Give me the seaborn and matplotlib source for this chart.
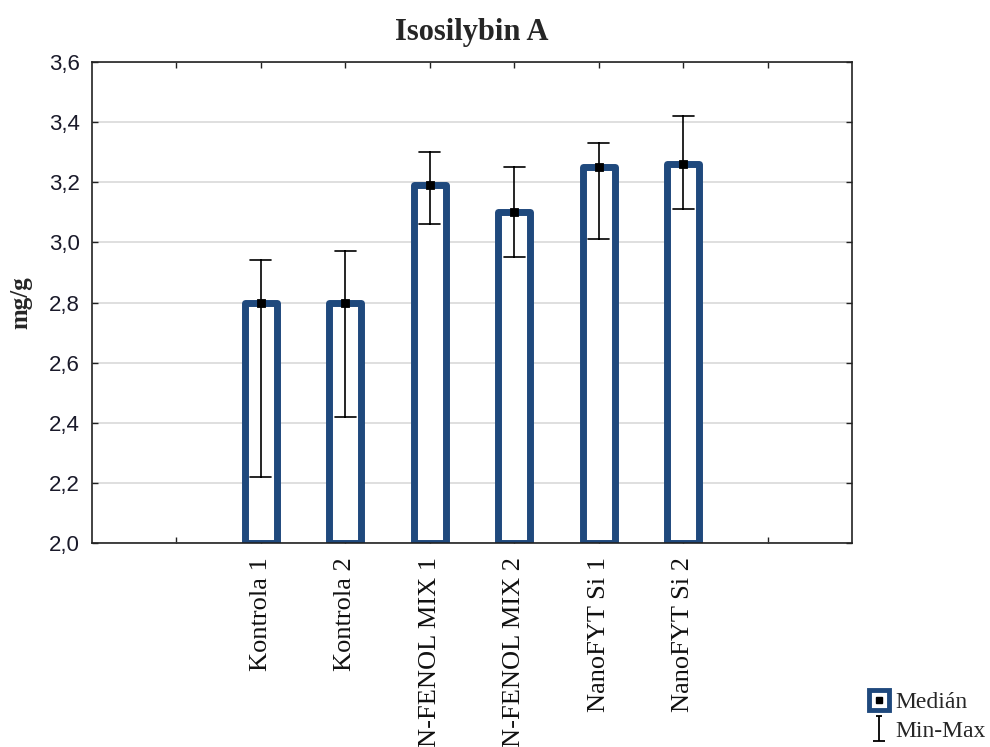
import numpy as np
import pandas as pd
import matplotlib
matplotlib.use("Agg")
import matplotlib.pyplot as plt
from matplotlib.lines import Line2D
from matplotlib.path import Path
from matplotlib.ticker import FuncFormatter, MultipleLocator
import seaborn as sns

# Isosilybin A content per treatment: median with min-max range
categories = ["Kontrola 1", "Kontrola 2", "N-FENOL MIX 1", "N-FENOL MIX 2",
              "NanoFYT Si 1", "NanoFYT Si 2"]
median_vals = [2.80, 2.80, 3.19, 3.10, 3.25, 3.26]
min_vals = [2.22, 2.42, 3.06, 2.95, 3.01, 3.11]
max_vals = [2.94, 2.97, 3.30, 3.25, 3.33, 3.42]

BLUE = "#1f497d"
SERIF = ["Liberation Serif", "DejaVu Serif"]
SANS = ["Liberation Sans", "DejaVu Sans"]

rows = []
for c, lo, md, hi in zip(categories, min_vals, median_vals, max_vals):
    for v in (lo, md, hi):
        rows.append({"group": c, "value": v})
df = pd.DataFrame(rows)

sns.set_style("white")
fig = plt.figure(figsize=(9.9, 7.47), dpi=100)
ax = fig.add_axes([92 / 990, 1 - 543 / 747, (852 - 92) / 990, (543 - 62) / 747])

ax.yaxis.grid(True, color="#d9d9d9", linewidth=1.2, zorder=0)
ax.set_axisbelow(True)

sns.barplot(data=df, x="group", y="value", order=categories,
            estimator="median", errorbar=lambda v: (v.min(), v.max()),
            width=0.38, color="white", edgecolor=BLUE, linewidth=5,
            capsize=0.25, err_kws={"color": "black", "linewidth": 1.2},
            ax=ax, zorder=2)

# bars rise from the bottom of the value axis
for p in ax.patches:
    top = p.get_y() + p.get_height()
    p.set_y(2.0)
    p.set_height(top - 2.0)
    p.set_joinstyle("round")

# median markers
sns.pointplot(data=df, x="group", y="value", order=categories,
              estimator="median", errorbar=None, linestyle="none",
              marker="s", markersize=4, color="black", ax=ax, zorder=5)

ax.set_ylim(2.0, 3.6)
ax.set_xlim(-2, 7)
ax.yaxis.set_major_locator(MultipleLocator(0.2))
ax.yaxis.set_major_formatter(FuncFormatter(lambda v, _: f"{v:.1f}".replace(".", ",")))
ax.set_xticks(np.arange(-1, len(categories) + 1))
ax.set_xticklabels([""] + categories + [""], rotation=90, fontfamily=SERIF,
                   fontsize=19, color="#111111")
for lab in ax.get_yticklabels():
    lab.set_fontfamily(SANS)
    lab.set_fontsize(16)
    lab.set_color("#1a1a2a")

ax.tick_params(axis="both", which="major", direction="in", length=4, width=1,
               color="#222222", top=True, right=True, bottom=True, left=True)
ax.tick_params(axis="x", pad=10)
ax.tick_params(axis="y", pad=9)

for s in ax.spines.values():
    s.set_visible(True)
    s.set_color("#222222")
    s.set_linewidth(1.2)

ax.set_xlabel("")
ax.set_ylabel("mg/g", fontfamily=SERIF, fontweight="bold", fontsize=18, labelpad=12)
ax.set_title("Isosilybin A", fontfamily=SERIF, fontweight="bold", fontsize=22, pad=16)

# legend
cap_path = Path([(-0.45, -1), (0.45, -1), (0, -1), (0, 1), (-0.25, 1), (0.25, 1)],
                [Path.MOVETO, Path.LINETO, Path.MOVETO, Path.LINETO, Path.MOVETO, Path.LINETO])
med_handle = (Line2D([], [], linestyle="none", marker="s", markersize=15,
                     markerfacecolor="white", markeredgecolor=BLUE, markeredgewidth=3.5),
              Line2D([], [], linestyle="none", marker="s", markersize=4, color="black"))
mm_handle = Line2D([], [], linestyle="none", marker=cap_path, markersize=18,
                   markeredgecolor="black", markeredgewidth=1.3, markerfacecolor="none")
fig.legend([med_handle, mm_handle], ["Medián", "Min-Max"], loc="lower right",
           bbox_to_anchor=(0.998, 0.004), borderaxespad=0, frameon=False,
           prop={"family": SERIF, "size": 17}, handlelength=1.0, handletextpad=0.2,
           labelspacing=0.3, borderpad=0.1)

fig.savefig("out.png", dpi=100)
